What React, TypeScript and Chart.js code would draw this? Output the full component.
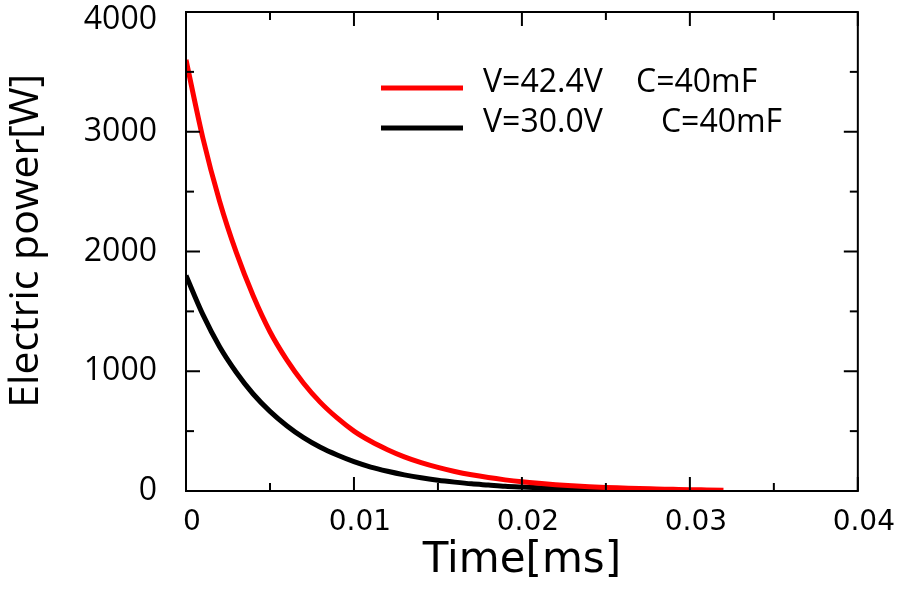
import React, { useEffect, useRef } from 'react';
import { Chart, registerables } from 'chart.js';

Chart.register(...registerables);

// Time samples [ms]
const timeMs = [
  0, 0.001, 0.002, 0.003, 0.004, 0.005, 0.006, 0.007, 0.008, 0.009, 0.01,
  0.011, 0.012, 0.013, 0.014, 0.015, 0.016, 0.017, 0.018, 0.019, 0.02,
  0.021, 0.022, 0.023, 0.024, 0.025, 0.026, 0.027, 0.028, 0.029, 0.03,
  0.031, 0.032,
];

// V=42.4V, C=40mF  (red)
const redPower = [
  3600, 2950, 2420, 1990, 1630, 1330, 1095, 900, 740, 610, 500,
  415, 345, 285, 237, 197, 163, 135, 112, 93, 77,
  64, 53, 44, 36, 30, 25, 20, 17, 14, 11,
  9, 7,
];

// V=30.0V, C=40mF  (black)
const blackPower = [
  1800, 1475, 1205, 990, 810, 665, 545, 445, 365, 300, 245,
  200, 165, 135, 110, 90, 74, 60, 50, 40, 33,
  27, 22, 18, 15, 12, 10, 8, 6, 5, 4,
];

const seriesLabels = ['V=42.4V    C=40mF', 'V=30.0V       C=40mF'];
const seriesColors = ['#ff0000', '#000000'];
const xTickLabels = ['0', '0.01', '0.02', '0.03', '0.04'];
const yTickLabels = ['0', '1000', '2000', '3000', '4000'];
const xTitle = 'Time[ms]';
const yTitle = '  Electric power[W]';

const frameTicks = {
  id: 'frameTicks',
  afterDraw(chart: any) {
    const { ctx, chartArea: a, scales } = chart;
    const x = scales.x;
    const y = scales.y;
    ctx.save();
    ctx.strokeStyle = '#000';
    ctx.lineWidth = 2;
    ctx.lineCap = 'butt';
    const seg = (x1: number, y1: number, x2: number, y2: number) => {
      ctx.beginPath();
      ctx.moveTo(x1, y1);
      ctx.lineTo(x2, y2);
      ctx.stroke();
    };
    x.ticks.forEach((t: any) => {
      const px = x.getPixelForValue(t.value);
      const major = Math.round(t.value / 0.005) % 2 === 0;
      const len = major ? 14 : 8;
      seg(px, a.bottom, px, a.bottom - len);
      seg(px, a.top, px, a.top + len);
    });
    y.ticks.forEach((t: any) => {
      const py = y.getPixelForValue(t.value);
      const major = Math.round(t.value / 500) % 2 === 0;
      const len = major ? 14 : 8;
      seg(a.left, py, a.left + len, py);
      seg(a.right, py, a.right - len, py);
    });
    ctx.strokeRect(a.left, a.top, a.right - a.left, a.bottom - a.top);
    ctx.restore();
  },
};

const lineLegend = {
  id: 'lineLegend',
  afterDraw(chart: any) {
    const { ctx, chartArea: a } = chart;
    ctx.save();
    chart.data.datasets.forEach((ds: any, i: number) => {
      const ly = a.top + 76 + i * 40;
      ctx.strokeStyle = ds.borderColor;
      ctx.lineWidth = 5;
      ctx.beginPath();
      ctx.moveTo(a.left + 195, ly);
      ctx.lineTo(a.left + 277, ly);
      ctx.stroke();
      ctx.fillStyle = '#000';
      ctx.font = '32px "Open Sans"';
      ctx.textAlign = 'left';
      ctx.textBaseline = 'middle';
      ctx.fillText(ds.label, a.left + 297, ly - 5);
    });
    ctx.restore();
  },
};

export default function App() {
  const ref = useRef<HTMLCanvasElement | null>(null);

  useEffect(() => {
    if (!ref.current) return;
    const chart = new Chart(ref.current, {
      type: 'line',
      data: {
        datasets: [
          {
            label: seriesLabels[0],
            data: redPower.map((v, i) => ({ x: timeMs[i], y: v })),
            borderColor: seriesColors[0],
            borderWidth: 5,
            pointRadius: 0,
            cubicInterpolationMode: 'monotone',
            fill: false,
          },
          {
            label: seriesLabels[1],
            data: blackPower.map((v, i) => ({ x: timeMs[i], y: v })),
            borderColor: seriesColors[1],
            borderWidth: 5,
            pointRadius: 0,
            cubicInterpolationMode: 'monotone',
            fill: false,
          },
        ],
      },
      options: {
        animation: false,
        responsive: false,
        events: [],
        layout: { padding: { top: 12, right: 45, left: 0, bottom: 0 } },
        plugins: {
          legend: { display: false },
          tooltip: { enabled: false },
        },
        scales: {
          x: {
            type: 'linear',
            min: 0,
            max: 0.04,
            grid: { display: false, drawTicks: false },
            border: { display: false },
            ticks: {
              stepSize: 0.005,
              autoSkip: false,
              maxRotation: 0,
              minRotation: 0,
              padding: 15,
              labelOffset: 6,
              color: '#000',
              font: { family: 'DejaVu Sans', size: 28 },
              callback: (value: any) => {
                const i = Math.round(Number(value) / 0.005);
                return i % 2 === 0 ? xTickLabels[i / 2] : '';
              },
            },
            title: {
              display: true,
              text: xTitle,
              color: '#000',
              font: { family: 'DejaVu Sans', size: 42 },
              padding: { top: 0, bottom: 3 },
            },
            afterFit: (scale: any) => {
              scale.height = 98;
            },
          },
          y: {
            type: 'linear',
            min: 0,
            max: 4000,
            grid: { display: false, drawTicks: false },
            border: { display: false },
            ticks: {
              stepSize: 500,
              autoSkip: false,
              padding: 29,
              color: '#000',
              font: (ctx: any) =>
                ctx.tick && ctx.tick.value === 4000
                  ? { family: 'Open Sans', size: 32, lineHeight: 0.5 }
                  : { family: 'Open Sans', size: 32 },
              callback: (value: any) => {
                const v = Number(value);
                if (v % 1000 !== 0) return '';
                const label = yTickLabels[v / 1000];
                return v === 4000 ? ['', label] : label;
              },
            },
            title: {
              display: true,
              text: yTitle,
              color: '#000',
              font: { family: 'Open Sans', size: 41 },
              padding: { top: 2, bottom: 0 },
            },
            afterFit: (scale: any) => {
              scale.width = 186;
              scale.paddingTop = 0;
            },
          },
        },
      },
      plugins: [frameTicks, lineLegend],
    });
    return () => chart.destroy();
  }, []);

  return (
    <div style={{ position: 'fixed', left: 0, top: 0, width: 904, height: 589, background: '#fff' }}>
      <canvas ref={ref} width={904} height={589} style={{ display: 'block' }} />
    </div>
  );
}
